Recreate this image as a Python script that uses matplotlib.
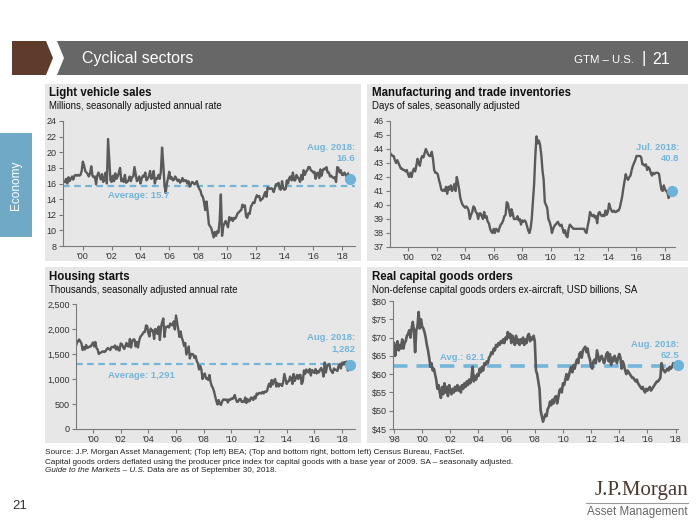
import numpy as np
import matplotlib
matplotlib.use("Agg")
import matplotlib.pyplot as plt
from matplotlib.patches import Polygon, Rectangle
from matplotlib.lines import Line2D
from matplotlib.ticker import FuncFormatter

plt.rcParams['font.family'] = ['Liberation Sans', 'DejaVu Sans']

# ---- data (monthly) ----
# light vehicle sales, millions SAAR, Oct 1998 - Aug 2018
lv_start = 1998 + 9 / 12
lv_sales = [16.2, 16.6, 16.0,
    16.8, 16.3, 16.6, 16.9, 16.5, 17.0, 17.1, 17.0, 17.1, 17.0, 17.1, 17.6,
    18.8, 18.3, 17.6, 17.4, 17.2, 16.9, 17.3, 18.2, 17.0, 16.8, 16.9, 15.9,
    17.0, 17.4, 17.0, 16.5, 17.2, 16.2, 16.7, 17.4, 16.0, 21.7, 19.0, 16.4,
    16.2, 17.0, 16.3, 17.3, 16.6, 16.9, 17.4, 18.0, 16.3, 16.6, 16.2, 17.1,
    16.1, 16.2, 16.4, 16.9, 16.3, 16.8, 16.9, 18.1, 17.2, 16.3, 16.5, 16.9,
    16.0, 16.6, 17.0, 16.9, 17.4, 16.4, 16.6, 16.9, 17.6, 16.6, 16.7, 17.6,
    16.0, 16.7, 16.6, 17.1, 16.6, 17.5, 20.6, 18.5, 15.9, 14.8, 16.0, 16.7,
    17.5, 16.6, 16.8, 16.4, 16.5, 16.9, 16.6, 16.3, 16.5, 16.1, 16.3, 16.7,
    16.3, 16.4, 16.4, 16.0, 16.3, 15.6, 15.9, 16.2, 16.1, 15.9, 16.0, 16.3,
    15.7, 15.3, 15.1, 14.5, 14.3, 13.6, 12.6, 13.7, 12.4, 10.8, 10.5, 10.3,
    9.7, 9.1, 9.8, 9.3, 9.9, 9.7, 11.2, 14.6, 9.3, 10.5, 10.9, 11.2,
    10.8, 10.4, 11.7, 11.3, 11.6, 11.2, 11.6, 11.5, 11.8, 12.2, 12.3, 12.5,
    12.6, 13.3, 13.0, 13.2, 11.8, 11.6, 12.2, 12.1, 13.0, 13.3, 13.6, 13.5,
    14.1, 14.5, 14.3, 14.4, 13.8, 14.0, 14.1, 14.5, 14.9, 14.3, 15.5, 15.4,
    15.3, 15.4, 15.3, 14.9, 15.4, 15.9, 15.8, 16.1, 15.3, 15.2, 16.3, 15.4,
    15.2, 15.3, 16.4, 16.0, 16.7, 16.9, 16.4, 17.4, 16.4, 16.4, 17.1, 16.8,
    16.6, 16.2, 17.1, 16.5, 17.7, 17.1, 17.5, 17.7, 18.1, 18.1, 17.7, 17.6,
    17.4, 17.5, 16.6, 17.3, 17.4, 16.7, 17.8, 17.0, 17.7, 17.9, 17.8, 18.1,
    17.4, 17.4, 16.9, 17.0, 16.8, 16.7, 16.8, 16.2, 18.1, 18.0, 17.4, 17.7,
    17.1, 17.1, 17.4, 17.1, 16.8, 17.3, 16.8, 16.6]
lv_avg = 15.7

# manufacturing and trade inventories, days of sales, Oct 1998 - Jul 2018
inv_start = 1998 + 9 / 12
inventories = [43.7, 43.6, 43.5,
    43.5, 43.2, 43.0, 43.2, 43.0, 42.8, 42.6, 42.6, 42.5, 42.5, 42.4, 42.5,
    42.2, 42.0, 42.3, 42.0, 42.4, 42.6, 42.4, 42.8, 43.3, 43.0, 42.8, 43.3,
    43.5, 43.4, 43.7, 44.0, 43.8, 43.6, 43.5, 43.5, 43.8, 43.3, 42.5, 42.3,
    42.3, 42.2, 41.8, 41.5, 41.1, 41.0, 41.1, 41.0, 41.3, 40.8, 41.3, 41.1,
    41.4, 41.0, 41.2, 41.5, 41.0, 42.0, 41.6, 41.1, 40.5, 40.2, 40.0, 39.9,
    39.8, 39.9, 39.8, 39.6, 39.0, 39.3, 39.5, 39.9, 39.8, 39.5, 39.4, 39.0,
    39.4, 39.4, 39.2, 39.0, 39.5, 39.1, 39.2, 38.8, 38.7, 38.3, 38.1, 38.0,
    38.3, 38.0, 38.3, 38.2, 38.1, 38.4, 38.6, 38.7, 38.9, 39.2, 39.3, 40.2,
    40.1, 39.6, 39.2, 39.7, 39.4, 39.0, 39.0, 39.0, 39.2, 38.9, 39.0, 38.6,
    38.9, 38.8, 38.9, 38.8, 38.5, 38.2, 38.0, 38.3, 39.0, 40.2, 41.5, 43.5,
    44.9, 44.4, 44.6, 44.3, 43.6, 42.5, 41.8, 40.2, 40.0, 39.8, 39.0, 38.8,
    38.5, 38.0, 38.3, 38.5, 38.6, 38.7, 38.8, 38.6, 38.5, 38.6, 38.3, 38.0,
    38.2, 37.8, 37.7, 38.3, 38.6, 38.5, 38.4, 38.3, 38.3, 38.3, 38.3, 38.3,
    38.3, 38.3, 38.3, 38.3, 38.3, 38.1, 38.0, 38.5, 38.9, 39.5, 39.3, 39.2,
    39.3, 39.1, 39.2, 38.7, 39.4, 39.5, 39.3, 39.2, 39.3, 39.2, 39.6, 39.3,
    39.5, 40.1, 39.8, 39.6, 39.5, 39.6, 39.5, 39.5, 39.6, 39.6, 39.8, 40.2,
    40.6, 41.2, 41.7, 42.2, 41.9, 41.8, 42.0, 42.1, 42.5, 42.8, 43.0, 43.2,
    43.5, 43.5, 43.5, 43.5, 43.4, 42.9, 42.9, 42.8, 42.9, 42.5, 42.7, 42.6,
    42.3, 42.1, 42.3, 42.2, 42.3, 42.3, 42.3, 42.2, 41.6, 41.1, 41.0, 41.4,
    41.1, 41.0, 40.9, 40.5, 40.7, 40.9, 41.0]

# housing starts, thousands SAAR, Oct 1998 - Aug 2018
hs_start = 1998 + 9 / 12
housing = [1650, 1720, 1760,
    1790, 1750, 1710, 1580, 1640, 1590, 1680, 1620, 1630, 1650, 1650, 1690,
    1730, 1650, 1740, 1620, 1590, 1500, 1520, 1530, 1550, 1550, 1540, 1560,
    1600, 1620, 1600, 1580, 1640, 1640, 1630, 1670, 1590, 1650, 1580, 1570,
    1710, 1700, 1650, 1600, 1650, 1720, 1660, 1650, 1800, 1630, 1760, 1790,
    1790, 1650, 1740, 1630, 1760, 1840, 1870, 1900, 1940, 1940, 2070, 2060,
    1910, 1850, 2010, 1970, 1970, 1800, 2000, 1990, 1900, 2050, 1780, 2040,
    2140, 2210, 1840, 2040, 2040, 2060, 2030, 2110, 2090, 2070, 2150, 1990,
    2270, 2130, 1990, 1840, 1950, 1830, 1760, 1660, 1720, 1490, 1570, 1650,
    1410, 1500, 1500, 1490, 1420, 1460, 1360, 1310, 1190, 1260, 1190, 1000,
    1080, 1110, 1010, 1020, 980, 1080, 940, 860, 820, 750, 650, 560,
    490, 580, 510, 480, 550, 590, 590, 580, 590, 530, 590, 580,
    610, 600, 630, 680, 590, 540, 550, 600, 600, 540, 550, 540,
    630, 520, 600, 550, 560, 630, 620, 580, 650, 610, 710, 690,
    720, 720, 710, 740, 710, 750, 740, 760, 860, 910, 840, 980,
    890, 970, 1000, 850, 920, 850, 900, 890, 860, 940, 1100, 1000,
    900, 950, 960, 1050, 1000, 900, 1100, 960, 1020, 1080, 1000, 1080,
    1080, 900, 950, 1170, 1100, 1190, 1150, 1130, 1200, 1070, 1180, 1150,
    1120, 1200, 1110, 1160, 1130, 1190, 1220, 1160, 1050, 1330, 1130, 1250,
    1290, 1300, 1190, 1150, 1120, 1210, 1190, 1180, 1160, 1260, 1300, 1210,
    1330, 1290, 1340, 1280, 1350, 1170, 1180, 1282]
hs_avg = 1291

# real capital goods orders, USD billions, read monthly along the axis from '98
cg_start = 1998.0
cap_goods = [68.5, 65.0, 67.5, 69.0, 66.5, 68.0, 67.0, 69.5, 67.0, 68.5, 69.0, 70.5,
    71.0, 72.0, 70.0, 72.5, 74.3, 72.0, 66.0, 72.0, 73.0, 77.0, 72.5, 75.0,
    73.0, 72.5, 71.5, 70.0, 68.0, 66.5, 64.5, 62.0, 63.0, 61.0, 61.5, 60.0,
    58.5, 56.0, 57.0, 55.0, 53.5, 56.5, 54.5, 57.5, 55.0, 56.5, 54.0, 57.0,
    55.5, 54.5, 56.0, 55.0, 56.5, 55.5, 57.0, 55.5, 56.5, 55.0, 57.0, 56.0,
    57.5, 56.5, 58.0, 57.0, 58.5, 57.5, 59.0, 62.0, 58.0, 59.5, 58.5, 60.0,
    59.5, 61.5, 60.5, 62.0, 61.0, 63.0, 62.5, 63.5, 63.0, 64.5, 65.0, 66.0,
    65.5, 67.0, 66.5, 68.0, 67.5, 68.5, 68.0, 69.0, 68.5, 69.5, 68.5, 70.0,
    69.5, 71.5, 70.0, 71.0, 68.5, 70.5, 69.0, 68.0, 70.5, 68.5, 69.5, 68.0,
    69.5, 68.5, 70.0, 68.0, 69.5, 68.5, 70.5, 71.0, 69.0, 70.0, 69.5, 70.5,
    69.0, 61.0, 60.0, 58.0, 56.0, 50.0, 48.5, 47.0, 48.0, 49.0, 48.5, 50.5,
    51.0, 52.5, 51.5, 53.0, 52.0, 53.5, 54.0, 52.0, 53.5, 55.5, 56.0, 55.0,
    57.5, 57.0, 58.5, 60.0, 58.5, 59.5, 61.0, 62.0, 60.5, 62.5, 61.5, 63.0,
    64.0, 63.0, 65.5, 66.0, 64.5, 66.5, 67.0, 67.5, 66.0, 67.0, 65.0, 64.0,
    62.0, 61.5, 63.5, 64.0, 63.0, 66.5, 65.0, 63.5, 64.5, 65.0, 64.0, 63.0,
    64.0, 65.5, 66.0, 63.5, 65.5, 62.5, 64.5, 63.5, 65.0, 64.0, 63.0, 64.5,
    65.5, 64.5, 61.5, 63.5, 62.5, 61.0, 60.0, 61.0, 60.5, 60.0, 59.5, 59.0,
    59.0, 58.5, 58.0, 58.5, 57.5, 57.0, 56.5, 56.0, 56.5, 55.5, 55.0, 56.0,
    55.5, 56.0, 56.5, 55.5, 56.0, 56.5, 57.0, 57.5, 58.0, 58.0, 58.5, 59.0,
    63.0, 61.5, 61.0, 60.5, 61.0, 61.5, 61.0, 62.0, 61.5, 62.0, 63.0, 62.5,
    62.5, 62.0, 62.5]
cg_avg = 62.1

W, H = 700, 525
LINE = '#5a5a5a'
BLUE = '#74b5d8'
DOT = '#6db2d8'
PANEL = '#e7e7e7'
AX = '#7a7a7a'

fig = plt.figure(figsize=(7, 5.25), dpi=100)
fig.patch.set_facecolor('white')


def fx(x):
    return x / W


def fy(y):
    return 1 - y / H


def poly(pts, color):
    fig.add_artist(Polygon([(fx(a), fy(b)) for a, b in pts], closed=True,
                           transform=fig.transFigure, facecolor=color,
                           edgecolor='none', zorder=0))


def rect(x0, y0, x1, y1, color):
    fig.add_artist(Rectangle((fx(x0), fy(y1)), fx(x1) - fx(x0), fy(y0) - fy(y1),
                             transform=fig.transFigure, facecolor=color,
                             edgecolor='none', zorder=0))


# header
poly([(12, 41), (46, 41), (53, 58), (46, 75), (12, 75)], '#5f3b2b')
poly([(57, 41), (688, 41), (688, 75), (57, 75), (64, 58)], '#676767')
fig.text(fx(82), fy(59), 'Cyclical sectors', color='white', fontsize=11.5,
         va='center', ha='left')
fig.text(fx(634), fy(60), 'GTM – U.S.', color='white', fontsize=8.2,
         va='center', ha='right')
fig.text(fx(644), fy(59), '|', color='white', fontsize=12,
         va='center', ha='center')
fig.text(fx(670), fy(59), '21', color='white', fontsize=11.5,
         va='center', ha='right')

# side tab
rect(0, 133, 32, 237, '#70a9c6')
fig.text(fx(16), fy(185), 'Economy', color='white', fontsize=8.5, rotation=90,
         va='center', ha='center')

# panels
rect(45, 84, 361, 261, PANEL)
rect(367, 84, 688, 261, PANEL)
rect(45, 267, 361, 443, PANEL)
rect(367, 267, 688, 443, PANEL)


def make_ax(box, xlim, ylim, yticks, xticks, yfmt):
    x0, y0, x1, y1 = box
    ax = fig.add_axes([fx(x0), fy(y1), fx(x1) - fx(x0), fy(y0) - fy(y1)])
    ax.set_facecolor('none')
    for s in ['top', 'right']:
        ax.spines[s].set_visible(False)
    for s in ['left', 'bottom']:
        ax.spines[s].set_color(AX)
        ax.spines[s].set_linewidth(0.8)
    ax.set_xlim(*xlim)
    ax.set_ylim(*ylim)
    ax.set_yticks(yticks)
    ax.set_xticks(xticks)
    ax.set_xticklabels(["'%02d" % (t % 100) for t in xticks])
    ax.yaxis.set_major_formatter(FuncFormatter(yfmt))
    ax.tick_params(axis='both', length=3, width=0.8, color=AX, labelsize=6.5,
                   labelcolor='#333333', pad=1.5)
    return ax


def months(start, n):
    return start + np.arange(n) / 12


def title(x, y, t, sub):
    fig.text(fx(x), fy(y), t, fontsize=8.3, fontweight='bold', color='#111111',
             va='center', ha='left')
    fig.text(fx(x), fy(y + 13), sub, fontsize=6.9, color='#111111',
             va='center', ha='left')


def blue_text(x, y, t, ha='left'):
    fig.text(fx(x), fy(y), t, fontsize=6.8, fontweight='bold', color=BLUE,
             va='center', ha=ha, linespacing=1.35)


yrs = list(range(2000, 2019, 2))

# top left
title(49, 93, 'Light vehicle sales', 'Millions, seasonally adjusted annual rate')
ax1 = make_ax((63, 121, 355, 246), (1998.62, 2018.9), (8, 24),
              range(8, 25, 2), yrs, lambda v, p: '%d' % v)
x1 = months(lv_start, len(lv_sales))
ax1.axhline(lv_avg, color=BLUE, lw=1.6, ls=(0, (3, 2)), zorder=1)
ax1.plot(x1, lv_sales, color=LINE, lw=1.7, zorder=2)
ax1.plot(x1[-1], lv_sales[-1], 'o', color=DOT, ms=7, clip_on=False, zorder=3)
blue_text(355, 153, 'Aug. 2018:\n16.6', ha='right')
blue_text(108, 196, 'Average: 15.7')

# top right
title(372, 93, 'Manufacturing and trade inventories', 'Days of sales, seasonally adjusted')
ax2 = make_ax((390, 121, 675, 247), (1998.74, 2018.7), (37, 46),
              range(37, 47), yrs, lambda v, p: '%d' % v)
x2 = months(inv_start, len(inventories))
ax2.plot(x2, inventories, color=LINE, lw=1.7, zorder=2)
ax2.plot(x2[-1], inventories[-1], 'o', color=DOT, ms=7, clip_on=False, zorder=3)
blue_text(679, 153, 'Jul. 2018:\n40.8', ha='right')

# bottom left
title(49, 277, 'Housing starts', 'Thousands, seasonally adjusted annual rate')
ax3 = make_ax((76, 304, 355, 429), (1998.77, 2018.94), (0, 2500),
              range(0, 2501, 500), yrs, lambda v, p: '{:,.0f}'.format(v))
x3 = months(hs_start, len(housing))
ax3.axhline(hs_avg, color=BLUE, lw=1.6, ls=(0, (3, 2)), zorder=1)
ax3.plot(x3, housing, color=LINE, lw=1.7, zorder=2)
ax3.plot(x3[-1], housing[-1], 'o', color=DOT, ms=7, clip_on=False, zorder=3)
blue_text(355, 343, 'Aug. 2018:\n1,282', ha='right')
blue_text(108, 375, 'Average: 1,291')

# bottom right
title(372, 277, 'Real capital goods orders',
      'Non-defense capital goods orders ex-aircraft, USD billions, SA')
ax4 = make_ax((393, 301, 678, 429), (1997.93, 2018.17), (45, 80),
              range(45, 81, 5), list(range(1998, 2019, 2)), lambda v, p: '$%d' % v)
x4 = months(cg_start, len(cap_goods))
ax4.axhline(cg_avg, color=BLUE, lw=2.6, ls=(0, (4, 2.5)), zorder=1)
ax4.plot(x4, cap_goods, color=LINE, lw=1.9, zorder=2)
ax4.plot(x4[-1], cap_goods[-1], 'o', color=DOT, ms=7, clip_on=False, zorder=3)
blue_text(679, 350, 'Aug. 2018:\n62.5', ha='right')
blue_text(440, 357, 'Avg.: 62.1')

# footer
foot = dict(fontsize=5.85, color='#222222', va='center', ha='left')
fig.text(fx(45), fy(453), 'Source: J.P. Morgan Asset Management; (Top left) BEA; '
         '(Top and bottom right, bottom left) Census Bureau, FactSet.', **foot)
fig.text(fx(45), fy(462), 'Capital goods orders deflated using the producer price index '
         'for capital goods with a base year of 2009. SA – seasonally adjusted.', **foot)
t = fig.text(fx(45), fy(471), 'Guide to the Markets – U.S.', fontstyle='italic', **foot)
fig.canvas.draw()
bb = t.get_window_extent()
fig.text(bb.x1 / fig.bbox.width, fy(471), ' Data are as of September 30, 2018.', **foot)

fig.text(fx(12), fy(506), '21', fontsize=9.5, color='#333333', va='center', ha='left')

# logo
fig.text(fx(688), fy(491), 'J.P.Morgan', family=['Liberation Serif', 'DejaVu Serif'],
         fontsize=15, color='#4b3a30', va='center', ha='right')
fig.add_artist(Line2D([fx(586), fx(688)], [fy(503), fy(503)], color='#9a9a9a', lw=0.8,
                      transform=fig.transFigure))
fig.text(fx(688), fy(512), 'Asset Management', fontsize=8.4,
         color='#666666', va='center', ha='right')

fig.savefig('out.png', dpi=100)
